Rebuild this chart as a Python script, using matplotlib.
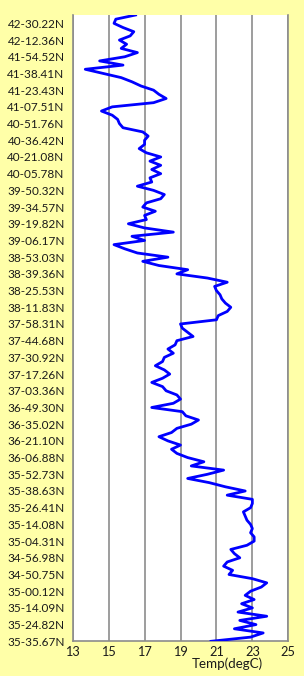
import matplotlib
matplotlib.use("Agg")
import matplotlib.pyplot as plt
import numpy as np

# Latitude labels (bottom of chart to top), one every LABEL_STEP samples
lat_labels = [
    "35-35.67N", "35-24.82N", "35-14.09N", "35-00.12N", "34-50.75N", "34-56.98N",
    "35-04.31N", "35-14.08N", "35-26.41N", "35-38.63N", "35-52.73N", "36-06.88N",
    "36-21.10N", "36-35.02N", "36-49.30N", "37-03.36N", "37-17.26N", "37-30.92N",
    "37-44.68N", "37-58.31N", "38-11.83N", "38-25.53N", "38-39.36N", "38-53.03N",
    "39-06.17N", "39-19.82N", "39-34.57N", "39-50.32N", "40-05.78N", "40-21.08N",
    "40-36.42N", "40-51.76N", "41-07.51N", "41-23.43N", "41-38.41N", "41-54.52N",
    "42-12.36N", "42-30.22N",
]
LABEL_STEP = 4

# Temperature samples (degC), from the start of the track (bottom) to the end (top)
temps = [
    20.7, 22.9, 23.6, 22.0, 23.2, 22.3, 23.8, 22.2, 23.0, 22.4,
    23.1, 22.6, 22.9, 23.5, 23.8, 23.0, 21.7, 21.9, 21.4, 21.6,
    22.3, 22.0, 21.8, 22.7, 23.1, 23.1, 22.9, 23.0, 22.9, 22.7,
    22.6, 22.5, 22.9, 23.0, 23.0, 21.6, 22.6, 21.5, 20.6, 19.4,
    20.5, 21.4, 19.6, 20.3, 19.4, 18.8, 18.5, 19.0, 18.3, 17.8,
    18.5, 18.8, 19.6, 20.0, 19.3, 19.1, 17.4, 18.6, 19.0, 18.8,
    18.2, 18.0, 17.4, 18.0, 18.4, 18.1, 17.6, 18.0, 18.1, 18.6,
    18.3, 18.7, 18.8, 19.7, 19.4, 19.1, 19.0, 21.0, 21.1, 21.6,
    21.8, 21.5, 21.3, 21.2, 21.0, 20.9, 21.6, 20.5, 18.8, 19.4,
    17.8, 16.9, 18.3, 16.6, 15.9, 15.3, 17.0, 16.3, 18.6, 17.0,
    16.1, 17.1, 17.0, 17.6, 16.9, 17.1, 17.9, 18.1, 17.5, 16.6,
    17.4, 17.3, 17.9, 17.4, 17.9, 17.3, 17.9, 17.1, 16.7, 17.0,
    17.0, 17.2, 16.9, 15.8, 15.6, 15.5, 15.2, 14.6, 15.2, 17.5,
    18.2, 17.8, 17.5, 16.8, 16.3, 15.7, 14.7, 13.7, 15.8, 14.5,
    15.9, 16.6, 15.7, 16.0, 15.6, 16.2, 16.4, 15.8, 15.3, 15.4,
    16.5,
]

x_ticks = [13, 15, 17, 19, 21, 23, 25]
x_label = "Temp(degC)"

W, H = 304, 676
fig = plt.figure(figsize=(W / 100, H / 100), dpi=100)
fig.patch.set_facecolor("#FFFFA8")

left, right, top, bottom = 72.7, 288.3, 15.0, 641.3
ax = fig.add_axes([left / W, 1 - bottom / H, (right - left) / W, (bottom - top) / H])
ax.set_facecolor("white")

y = np.arange(len(temps))
ax.plot(temps, y, color="#0000FF", lw=2.0, solid_joinstyle="round", zorder=3)

ax.set_xlim(13, 25)
ax.set_ylim(0, len(temps) - 1)
ax.set_xticks(x_ticks)
ax.set_xticklabels([str(t) for t in x_ticks])
ax.set_yticks(np.arange(len(lat_labels)) * LABEL_STEP)
ax.set_yticklabels(lat_labels)

font = "Lato"
for lab in ax.get_yticklabels():
    lab.set_fontfamily(font)
    lab.set_fontsize(8.5)
    lab.set_color("#1a1a1a")
for lab in ax.get_xticklabels():
    lab.set_fontfamily(font)
    lab.set_fontsize(9.2)
    lab.set_color("#1a1a1a")

ax.tick_params(axis="y", length=0, pad=5.8)
ax.tick_params(axis="x", length=0, pad=3.2)

ax.grid(axis="x", color="#8C8C8C", lw=1.2)
ax.set_axisbelow(True)
ax.spines["top"].set_visible(False)
for s in ["left", "bottom", "right"]:
    ax.spines[s].set_color("#8C8C8C")
    ax.spines[s].set_linewidth(1.2)

ax.set_xlabel(x_label, fontfamily=font, fontsize=9.6, color="#1a1a1a", va="center")
ax.xaxis.set_label_coords((227 - left) / (right - left), -(664 - bottom) / (bottom - top))

fig.savefig("out.png", dpi=100, facecolor=fig.get_facecolor())
